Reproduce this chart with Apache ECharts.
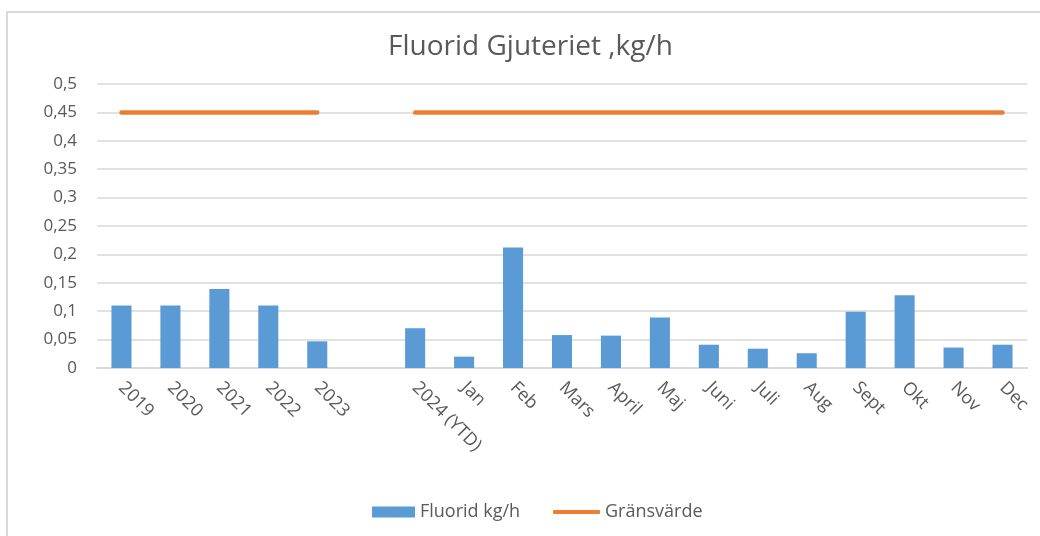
<!DOCTYPE html>
<html>
<head>
<meta charset="utf-8">
<script src="https://cdn.jsdelivr.net/npm/echarts@6/dist/echarts.min.js"></script>
<style>
html, body { margin: 0; padding: 0; background: #fff; }
#chart { width: 1040px; height: 536px; }
</style>
</head>
<body>
<div id="chart"></div>
<script>
var categories = ['2019', '2020', '2021', '2022', '2023', '', '2024 (YTD)', 'Jan', 'Feb', 'Mars', 'April', 'Maj', 'Juni', 'Juli', 'Aug', 'Sept', 'Okt', 'Nov', 'Dec'];
var fluorid = [0.11, 0.11, 0.139, 0.11, 0.047, null, 0.07, 0.02, 0.212, 0.058, 0.057, 0.089, 0.041, 0.034, 0.026, 0.099, 0.128, 0.036, 0.041];
var gransvarde = [0.45, 0.45, 0.45, 0.45, 0.45, null, 0.45, 0.45, 0.45, 0.45, 0.45, 0.45, 0.45, 0.45, 0.45, 0.45, 0.45, 0.45, 0.45];

var textColor = '#595959';
var font = '"Open Sans", sans-serif';

var chart = echarts.init(document.getElementById('chart'));
chart.setOption({
    backgroundColor: '#fff',
    animation: false,
    textStyle: { fontFamily: font },
    graphic: [{
        type: 'rect',
        shape: { x: 7, y: 12, width: 1100, height: 600 },
        style: { fill: 'none', stroke: '#d9d9d9', lineWidth: 2 },
        silent: true
    }],
    title: {
        text: 'Fluorid Gjuteriet ,kg/h',
        left: 383,
        top: 28,
        textStyle: { color: textColor, fontSize: 28, fontWeight: 'normal', fontFamily: font }
    },
    legend: [{
        data: ['Fluorid kg/h'],
        left: 372,
        top: 503,
        padding: 0,
        icon: 'rect',
        itemWidth: 43,
        itemHeight: 11,
        textStyle: { color: textColor, fontSize: 18, fontFamily: font }
    }, {
        data: ['Gränsvärde'],
        left: 553,
        top: 503,
        padding: 0,
        icon: 'roundRect',
        itemWidth: 47,
        itemHeight: 4,
        textStyle: { color: textColor, fontSize: 18, fontFamily: font }
    }],
    grid: { left: 97, right: 13, top: 84, bottom: 168 },
    xAxis: {
        type: 'category',
        data: categories,
        axisLine: { lineStyle: { color: '#d9d9d9', width: 2 } },
        axisTick: { show: false },
        axisLabel: {
            interval: 0,
            rotate: -45,
            margin: 17,
            color: textColor,
            fontSize: 18,
            fontFamily: font
        }
    },
    yAxis: {
        type: 'value',
        min: 0,
        max: 0.5,
        interval: 0.05,
        axisLine: { show: false },
        axisTick: { show: false },
        splitLine: { lineStyle: { color: '#d9d9d9', width: 1.5 } },
        axisLabel: {
            margin: 20,
            color: textColor,
            fontSize: 17,
            fontFamily: font,
            formatter: function (v) {
                return String(Math.round(v * 100) / 100).replace('.', ',');
            }
        }
    },
    series: [{
        name: 'Fluorid kg/h',
        type: 'bar',
        data: fluorid,
        barWidth: '41%',
        itemStyle: { color: '#5b9bd5' }
    }, {
        name: 'Gränsvärde',
        type: 'line',
        data: gransvarde,
        symbol: 'none',
        connectNulls: false,
        itemStyle: { color: '#ed7d31' },
        lineStyle: { color: '#ed7d31', width: 4.5, cap: 'round' }
    }]
});
</script>
</body>
</html>
